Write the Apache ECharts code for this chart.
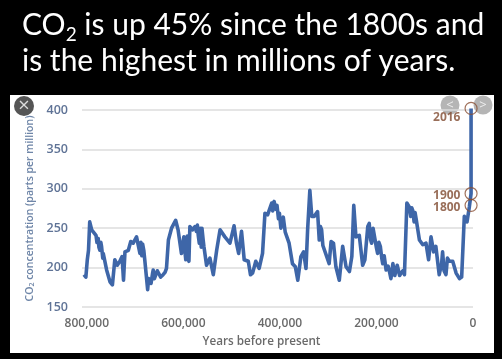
<!DOCTYPE html>
<html><head><meta charset="utf-8">
<style>html,body{margin:0;padding:0;background:#000}#c{width:502px;height:359px}</style>
<script src="https://cdn.jsdelivr.net/npm/echarts@6/dist/echarts.min.js"></script>
</head><body><div id="c"></div>
<script>
// thousands of years before present
const kyr = [806,802,799,796.5,794,790,787,781,779,776.5,775,773,771,769.5,767,766,763,759,752,747,742,737,731.5,727,724,721,714,709,704,697,690,688,686,684.5,682,680,674,672,669,667,664,662.5,660,657,654,650,647,642,638,635,631,624.5,616,611,604,599,597,595,592,590,588.5,586.5,581,576,573,571,569,567,565,563,561.5,559,557.5,552,545,538,531,524,514,503.5,495,490,485.5,479.5,474,465.5,461,
456.6,450,443,436,431,425.5,422,417,415,412,409,406,403,401,398,396.5,393,391,389,387.5,381,374,368,363,356.5,351,346,342.6,338,334,329,322,318.5,316,313.6,311,308,298,294,289,284,277,270,263,256,251,247,242.5,235.6,228.6,224,218,215,212,210,207,203,200,197.6,195,192,189,187,184,180,176,173,170,168.6,166,164,162,159.6,157,155,152,149,145,142,137,132,129,127,125,122,120,118,111,104,97.4,92,87,81.5,77,70,65,63,60,56,53,49,42,35,28,23.5,18,12.4,7.6,4,4,4];
const ppm = [191,188,210,222,258,248,248,241,232,237,226,222,232,227,212,218,218,197,182,178,210,203,208,214,184,220,222,233,231,239,218,232,215,230,222,210,172,186,184,180,192,197,186,184,196,194,188,191,194,199,235,250,260,248,218,239,222,210,240,212,208,252,248,252,246,254,240,231,250,226,250,235,227,203,212,191,222,248,239,231,253,231,218,246,210,208,191,
193,208,199,218,269,267,265,282,272,284,274,279,262,269,250,256,264,262.5,245,243,231,205,201,184,214,220,199,248,298,265,265,271,235,252,248,228,227,205,233,231,201,184,227,201,195,214,279,239,241,203,210,252,256,235,231,250,250,225,218,232,227,212,205,215,197,202,195,186,184,205,203,190,188,203,201,190,193,196,191,282,277,265,276,273,258,270,262.5,235,229,231,210,239,220,227,191,205,220,196,191,212,208,208,193,186,188,265,258,277,279,294,402];
const markYears = ['2016','1900','1800'];
const markKyr = [4,4,4];
const markPpm = [402,294,279];
const yTicks = [150,200,250,300,350,400];
const xTicks = [800000,600000,400000,200000,0];

const chart = echarts.init(document.getElementById('c'), null, {renderer:'canvas'});
const titleFont = 'Lato';
chart.setOption({
  backgroundColor:'#000',
  animation:false,
  grid:{left:82,right:29,top:110,bottom:52,containLabel:false},
  xAxis:{type:'value',inverse:true,min:0,max:810000,interval:200000,
    splitLine:{show:false},axisLine:{show:false},axisTick:{show:false},
    axisLabel:{showMaxLabel:false,color:'#6a6a6a',fontFamily:'Open Sans',fontSize:12,fontWeight:600,margin:11,
      formatter:v=>xTicks.includes(v)?v.toLocaleString('en-US'):''},
    name:'Years before present',nameLocation:'middle',nameGap:29,
    nameTextStyle:{color:'#6a6a6a',fontFamily:'Open Sans',fontSize:11.7,fontWeight:600,padding:[0,32,0,0]}},
  yAxis:{type:'value',min:150,max:400,interval:50,
    splitLine:{lineStyle:{color:'#dcdcdc',width:1.5}},axisLine:{show:false},axisTick:{show:false},
    axisLabel:{color:'#5f7396',fontFamily:'Open Sans',fontSize:12.5,fontWeight:600,margin:14,
      formatter:v=>yTicks.includes(v)?String(v):''},
    name:'{n|CO}{s|2}{n| concentration (parts per million)}',nameLocation:'middle',nameGap:45,
    nameTextStyle:{rich:{
      n:{color:'#6f86a8',fontFamily:'Open Sans',fontSize:10.5,fontWeight:600},
      s:{color:'#6f86a8',fontFamily:'Open Sans',fontSize:7,fontWeight:600,verticalAlign:'bottom',padding:[5,0,0,0]}}}},
  series:[
    {type:'line',data:kyr.map((k,i)=>[k*1000,ppm[i]]),showSymbol:false,clip:false,z:3,
      lineStyle:{color:'#3e66a8',width:3.6,join:'round'}},
    {type:'scatter',clip:false,z:5,symbol:'circle',symbolSize:12,
      itemStyle:{color:'rgba(255,255,255,0)',borderColor:'#8a4f33',borderWidth:1.2},
      data:markYears.map((n,i)=>({name:n,value:[markKyr[i]*1000,markPpm[i]],
        label:{offset:i===0?[-1,9]:[-1,2]}})),
      label:{show:true,position:'left',distance:3,formatter:'{b}',color:'#804a30',
        fontFamily:'Open Sans',fontSize:12,fontWeight:700}}
  ],
  graphic:[
    {type:'rect',z:-100,silent:true,shape:{x:10,y:95,width:484,height:258},style:{fill:'#fff'}},
    {type:'circle',z:-90,silent:true,shape:{cx:24,cy:106,r:10},style:{fill:'#555'}},
    {type:'text',z:-80,silent:true,x:24,y:106,style:{text:'×',fill:'#ddd',font:'20px "Open Sans"',align:'center',verticalAlign:'middle'}},
    {type:'circle',z:-90,silent:true,shape:{cx:450,cy:105,r:9.5},style:{fill:'#b5b5b5'}},
    {type:'text',z:-80,silent:true,x:450,y:105,style:{text:'<',fill:'#eee',font:'13px "Open Sans"',align:'center',verticalAlign:'middle'}},
    {type:'circle',z:-90,silent:true,shape:{cx:483,cy:105,r:9.5},style:{fill:'#b5b5b5'}},
    {type:'text',z:-80,silent:true,x:483,y:105,style:{text:'>',fill:'#eee',font:'13px "Open Sans"',align:'center',verticalAlign:'middle'}},
    {type:'text',silent:true,x:22,y:6,style:{
      text:'{t|CO}{s|2}{t| is up 45% since the 1800s and}',
      rich:{t:{fill:'#fff',fontFamily:titleFont,fontSize:30,lineHeight:38},
            s:{fill:'#fff',fontFamily:titleFont,fontSize:19,verticalAlign:'bottom',lineHeight:24,padding:[14,0,0,0]}}}},
    {type:'text',silent:true,x:22,y:46,style:{text:'is the highest in millions of years.',fill:'#fff',font:'30px Lato'}}
  ]
});
</script></body></html>
